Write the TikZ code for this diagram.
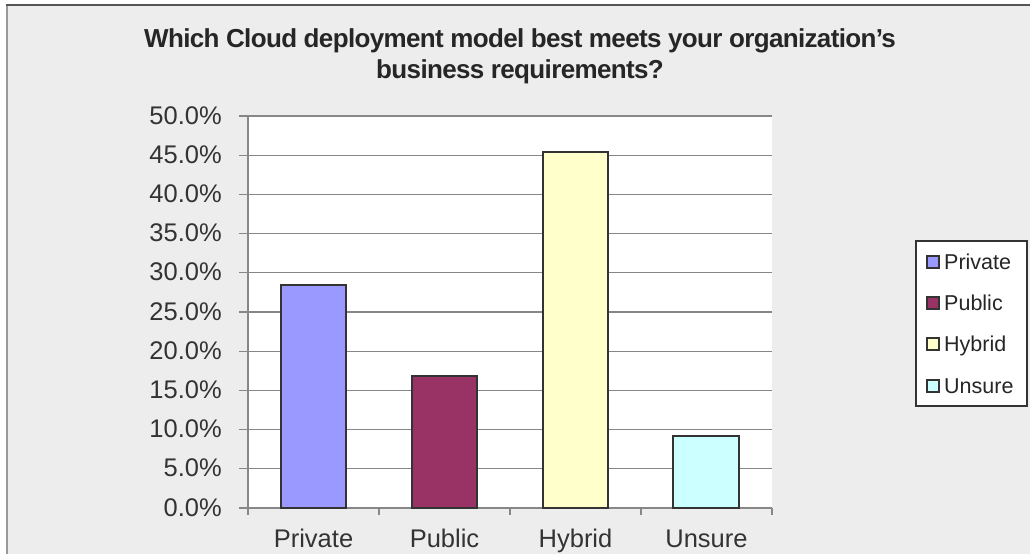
\documentclass[tikz,border=0pt]{standalone}
\usepackage{fontspec}
\setmainfont{Liberation Sans}
\newfontfamily\titlefont[LetterSpace=-2.5]{Liberation Sans}
\definecolor{chartbg}{HTML}{EDEDED}
\definecolor{gridgray}{HTML}{878787}
\definecolor{framegray}{HTML}{999999}
\definecolor{framedark}{HTML}{555555}
\definecolor{barline}{HTML}{333333}
\definecolor{labeltext}{HTML}{333333}
\definecolor{privatecol}{HTML}{9999FF}
\definecolor{publiccol}{HTML}{993366}
\definecolor{hybridcol}{HTML}{FFFFCC}
\definecolor{unsurecol}{HTML}{CCFFFF}
\tikzset{
	gridline/.style={draw=gridgray, line width=1.3pt},
	bar/.style={draw=barline, line width=2pt},
	swatch/.style={draw=barline, line width=1.6pt},
	ylabel/.style={anchor=base east, inner sep=0pt, text=labeltext, font=\fontsize{25.5}{30}\selectfont},
	xlabel/.style={anchor=base, inner sep=0pt, text=labeltext, font=\fontsize{25.5}{30}\selectfont},
	legendlabel/.style={anchor=base west, inner sep=0pt, text=black!85, font=\fontsize{21.5}{26}\selectfont},
	titleline/.style={anchor=base, inner sep=0pt, text=black!85, font=\titlefont\bfseries\fontsize{26}{30}\selectfont}
}

\begin{document}
\begin{tikzpicture}[x=1pt, y=-1pt]
	\useasboundingbox (0,0) rectangle (1030,554);
	% chart area
	\fill[chartbg] (7,5) rectangle (1030,554);
	\draw[framegray, line width=2pt] (7,554) -- (7,5);
	\draw[framedark, line width=1.5pt] (6,5) -- (1030,5);

	\node[titleline] (title1) at (520,47) {Which Cloud deployment model best meets your organization’s};
	\node[titleline] (title2) at (520,78) {business requirements?};

	% plot area
	\fill[white] (248,116) rectangle (772,508);
	\draw[gridline] (239,116) -- (772,116);
	\draw[gridline] (239,155.2) -- (772,155.2);
	\draw[gridline] (239,194.4) -- (772,194.4);
	\draw[gridline] (239,233.6) -- (772,233.6);
	\draw[gridline] (239,272.8) -- (772,272.8);
	\draw[gridline] (239,312) -- (772,312);
	\draw[gridline] (239,351.2) -- (772,351.2);
	\draw[gridline] (239,390.4) -- (772,390.4);
	\draw[gridline] (239,429.6) -- (772,429.6);
	\draw[gridline] (239,468.8) -- (772,468.8);
	\draw[gridline] (239,508) -- (772,508);
	\draw[gridline] (248,116) -- (248,515);
	\draw[gridline] (379,508) -- (379,515);
	\draw[gridline] (510,508) -- (510,515);
	\draw[gridline] (641,508) -- (641,515);
	\draw[gridline] (772,508) -- (772,515);

	\node[ylabel] (y50) at (222,124) {50.0\%};
	\node[ylabel] (y45) at (222,163.2) {45.0\%};
	\node[ylabel] (y40) at (222,202.4) {40.0\%};
	\node[ylabel] (y35) at (222,241.6) {35.0\%};
	\node[ylabel] (y30) at (222,280.8) {30.0\%};
	\node[ylabel] (y25) at (222,320) {25.0\%};
	\node[ylabel] (y20) at (222,359.2) {20.0\%};
	\node[ylabel] (y15) at (222,398.4) {15.0\%};
	\node[ylabel] (y10) at (222,437.6) {10.0\%};
	\node[ylabel] (y05) at (222,476.8) {5.0\%};
	\node[ylabel] (y00) at (222,516) {0.0\%};

	% bars
	\draw[bar, fill=privatecol] (281,508) rectangle (346,284.6);
	\draw[bar, fill=publiccol] (412,508) rectangle (477,375.5);
	\draw[bar, fill=hybridcol] (543,508) rectangle (608,152.1);
	\draw[bar, fill=unsurecol] (673,508) rectangle (739,435.9);

	\node[xlabel] (catprivate) at (313.5,547) {Private};
	\node[xlabel] (catpublic) at (444.5,547) {Public};
	\node[xlabel] (cathybrid) at (575.5,547) {Hybrid};
	\node[xlabel] (catunsure) at (706.5,547) {Unsure};

	% legend
	\draw[fill=white, draw=barline, line width=1.2pt] (916,241) rectangle (1027,406);
	\draw[swatch, fill=privatecol] (927,256) rectangle (939,268);
	\draw[swatch, fill=publiccol] (927,297) rectangle (939,309);
	\draw[swatch, fill=hybridcol] (927,338) rectangle (939,350);
	\draw[swatch, fill=unsurecol] (927,380) rectangle (939,392);
	\node[legendlabel] (legprivate) at (944,269.5) {Private};
	\node[legendlabel] (legpublic) at (944,310.5) {Public};
	\node[legendlabel] (leghybrid) at (944,351.5) {Hybrid};
	\node[legendlabel] (legunsure) at (944,393.5) {Unsure};
\end{tikzpicture}
\end{document}
